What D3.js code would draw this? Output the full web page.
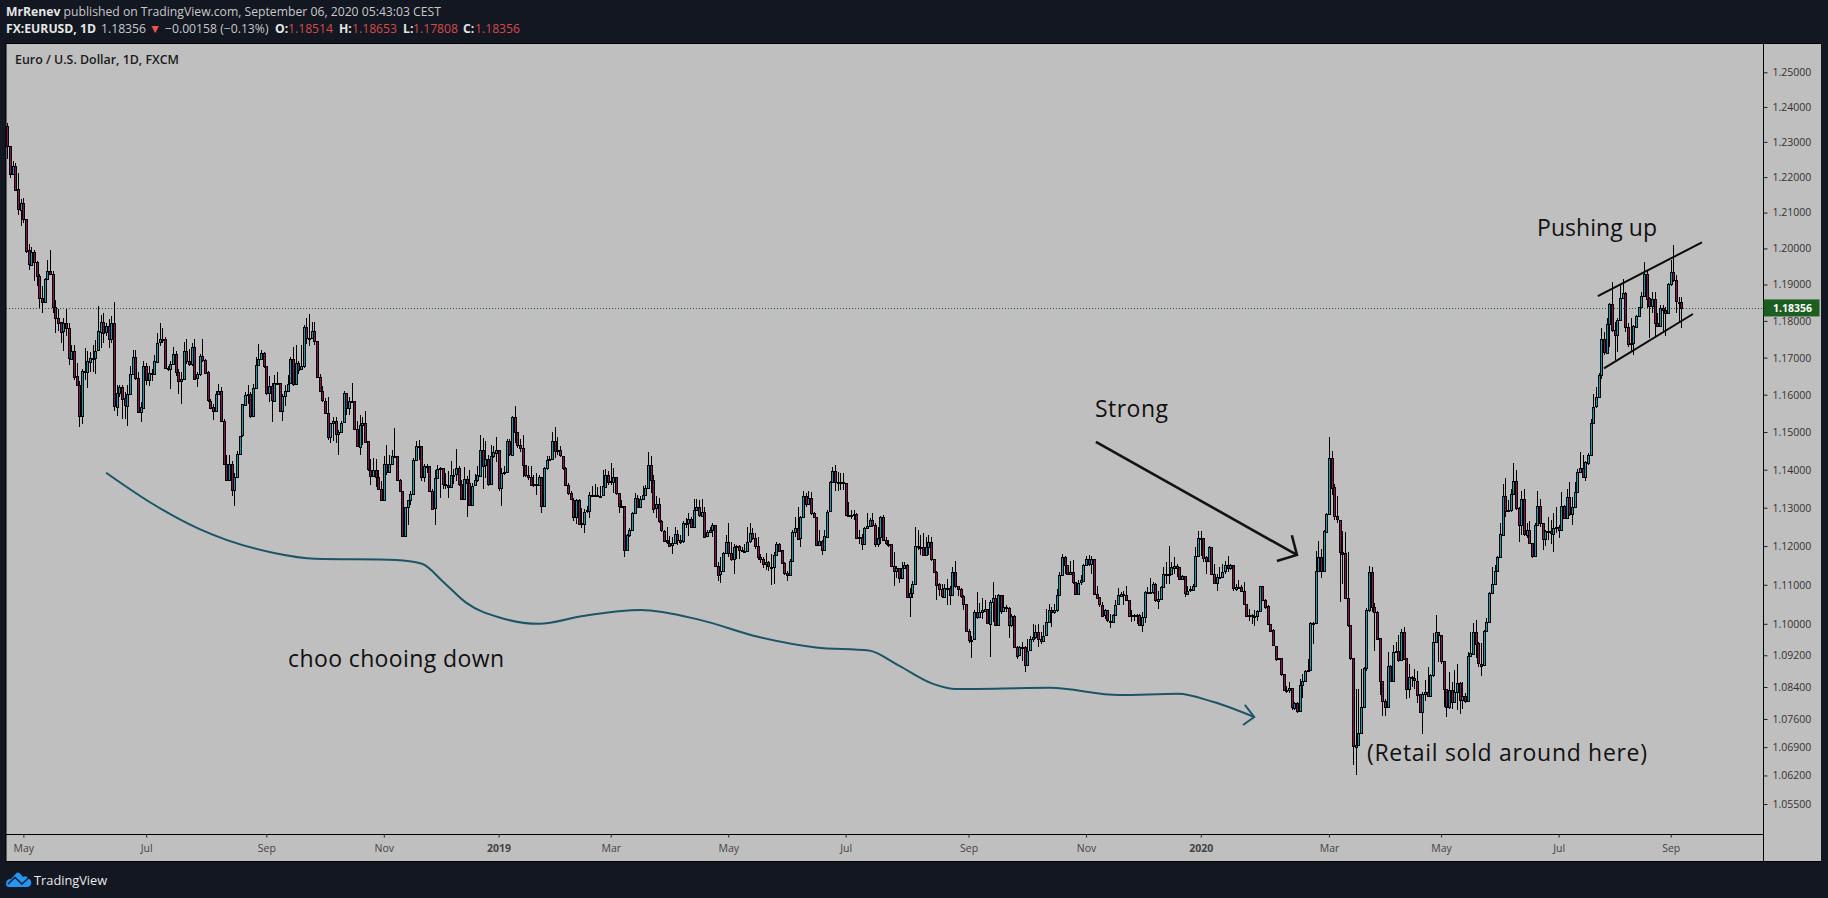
<!DOCTYPE html>
<html>
<head>
<meta charset="utf-8">
<script src="https://d3js.org/d3.v7.min.js"></script>
<style>
    html, body { margin: 0; padding: 0; background: #131722; overflow: hidden; }
    svg { display: block; }
    text { font-family: "Open Sans", "Noto Sans", sans-serif; }
</style>
</head>
<body>
<script>
// daily candles. values are pips above 1.0000 (2345 = 1.2345)
var firstOpen = 2345;
var closes = [
2288,2208,2232,2165,2108,2128,2083,1995,1955,1991,
1963,1924,1864,1852,1916,1937,1928,1838,1809,1796,
1770,1793,1780,1698,1719,1649,1625,1541,1663,1660,
1690,1700,1700,1719,1772,1798,1768,1785,1749,1793,
1567,1605,1621,1590,1572,1603,1657,1702,1645,1553,
1566,1678,1640,1658,1654,1690,1741,1750,1750,1672,
1670,1684,1710,1660,1636,1642,1718,1692,1683,1730,
1643,1655,1705,1694,1660,1584,1566,1556,1601,1610,
1530,1416,1375,1416,1348,1381,1441,1490,1574,1600,
1602,1543,1618,1680,1696,1712,1676,1604,1622,1584,
1632,1632,1556,1596,1610,1630,1695,1628,1686,1668,
1677,1783,1754,1754,1772,1744,1647,1609,1584,1552,
1487,1525,1530,1495,1500,1525,1604,1565,1583,1583,
1508,1462,1520,1525,1475,1400,1384,1400,1382,1350,
1320,1415,1395,1415,1436,1436,1373,1345,1226,1301,
1319,1335,1426,1463,1463,1380,1410,1410,1345,1298,
1378,1402,1404,1362,1360,1355,1387,1387,1404,1362,
1323,1376,1366,1308,1358,1372,1385,1453,1410,1427,
1361,1436,1446,1453,1352,1391,1393,1475,1440,1540,
1501,1466,1457,1413,1387,1382,1360,1363,1360,1381,
1305,1404,1426,1428,1477,1451,1451,1437,1404,1360,
1338,1321,1277,1321,1259,1259,1290,1293,1334,1334,
1334,1332,1332,1356,1387,1369,1367,1381,1338,1305,1305,
1191,1230,1242,1286,1325,1301,1323,1334,1352,1413,
1374,1299,1309,1264,1240,1215,1209,1202,1208,1231,
1215,1211,1259,1259,1270,1250,1294,1301,1279,1290,
1226,1237,1243,1255,1149,1127,1136,1182,1211,1183,
1167,1198,1199,1189,1187,1187,1211,1233,1220,1199,
1171,1167,1154,1158,1147,1147,1178,1206,1189,1155,
1129,1125,1162,1237,1248,1220,1275,1330,1310,1325,
1286,1275,1202,1213,1189,1226,1290,1367,1396,1367,
1367,1367,1365,1281,1281,1281,1284,1222,1224,1206,
1248,1252,1268,1255,1206,1222,1275,1215,1206,1206,
1148,1136,1143,1118,1143,1152,1070,1079,1101,1200,
1198,1198,1176,1198,1211,1167,1134,1101,1088,1070,
1092,1092,1074,1132,1096,1088,1070,1050,982,960,
960,1030,1017,1030,1035,1039,1002,1057,1067,
998,1074,1032,1043,1040,996,1020,942,920,940,
942,897,932,961,966,979,961,957,970,1004,
1034,1030,1034,1073,1124,1171,1150,1126,1132,1107,
1077,1105,1111,1151,1167,1154,1167,1077,1068,1049,
1020,1034,1008,1006,1023,1049,1073,1077,1074,1062,
1020,1023,1020,1023,997,1017,1081,1081,1081,1102,
1060,1064,1094,1128,1128,1128,1145,1149,1145,1114,
1122,1077,1085,1088,1097,1175,1222,1222,1171,1160,
1197,1128,1105,1120,1120,1134,1150,1141,1150,1090,
1094,1094,1085,1051,1020,1023,1021,1020,1032,1097,
1062,1045,1000,983,944,910,913,872,833,831,
837,789,801,782,846,855,880,883,1002,1002,
1135,1171,1135,1238,1284,1432,1354,1278,1269,1185,
1181,1066,997,912,691,696,726,791,888,1036,
1133,1044,1031,963,855,806,790,893,855,929,
931,908,980,912,835,865,862,856,822,776,
822,828,818,870,954,980,972,905,835,790,
833,803,827,850,808,818,805,918,925,980,
950,899,895,981,1005,1078,1101,1135,1171,1231,
1332,1293,1294,1335,1369,1299,1254,1322,1230,1242,
1208,1175,1256,1305,1260,1218,1239,1239,1233,1248,
1250,1242,1305,1273,1327,1282,1301,1341,1395,1405,
1381,1420,1440,1525,1568,1593,1652,1750,1714,1792,
1846,1775,1762,1803,1862,1876,1783,1737,1739,1785,
1814,1839,1869,1930,1862,1839,1859,1794,1785,1835,
1830,1821,1901,1935,1912,1853,1853,1836
];
var highs = [
2355,2280,2245,2240,2212,2138,2142,2083,2012,2003,
1995,1966,1928,1895,1918,1968,1996,1937,1857,1832,
1795,1809,1832,1795,1733,1733,1686,1636,1670,1726,
1719,1716,1733,1747,1840,1817,1823,1795,1804,1813,
1853,1627,1627,1625,1606,1627,1678,1722,1722,1660,
1580,1690,1686,1678,1669,1706,1767,1793,1781,1755,
1678,1692,1728,1719,1669,1660,1742,1750,1723,1741,
1750,1660,1710,1750,1696,1665,1588,1575,1611,1630,
1620,1536,1440,1440,1422,1392,1449,1453,1495,1607,
1625,1608,1628,1701,1738,1720,1715,1676,1649,1632,
1654,1662,1628,1602,1625,1654,1703,1730,1733,1690,
1733,1790,1807,1818,1796,1796,1746,1657,1623,1592,
1595,1525,1540,1540,1505,1530,1610,1605,1594,1632,
1583,1530,1545,1540,1557,1475,1428,1432,1428,1400,
1370,1435,1465,1440,1452,1510,1436,1375,1322,1303,
1321,1344,1430,1475,1480,1462,1416,1414,1405,1350,
1400,1413,1408,1392,1392,1396,1424,1402,1454,1410,
1372,1406,1384,1400,1366,1388,1410,1493,1483,1476,
1439,1466,1462,1488,1453,1405,1410,1482,1482,1542,
1569,1490,1481,1492,1413,1409,1411,1387,1392,1387,
1378,1407,1435,1435,1501,1513,1486,1462,1437,1407,
1365,1343,1325,1323,1323,1299,1296,1305,1340,1358,
1363,1354,1358,1400,1402,1396,1418,1404,1381,1338,1321,
1305,1231,1246,1290,1338,1334,1330,1356,1360,1446,
1435,1387,1330,1325,1268,1242,1250,1226,1224,1250,
1242,1228,1264,1272,1286,1275,1323,1323,1321,1323,
1303,1242,1250,1259,1226,1158,1171,1184,1228,1261,
1211,1206,1202,1202,1198,1206,1250,1261,1246,1233,
1224,1180,1171,1182,1162,1180,1184,1211,1208,1189,
1158,1136,1167,1242,1277,1303,1279,1345,1338,1343,
1340,1290,1277,1242,1215,1242,1293,1369,1407,1413,
1393,1391,1391,1360,1314,1294,1293,1286,1242,1231,
1250,1286,1272,1286,1259,1250,1279,1281,1224,1215,
1206,1184,1149,1143,1158,1158,1154,1092,1110,1249,
1242,1228,1233,1224,1228,1224,1167,1136,1105,1101,
1101,1114,1096,1145,1162,1096,1092,1074,1050,986,
969,1035,1081,1052,1066,1061,1039,1061,1106,
1073,1077,1074,1073,1049,1043,1026,1023,944,943,
953,944,961,970,1000,996,1000,979,996,1037,
1051,1043,1050,1090,1132,1180,1175,1151,1160,1164,
1107,1111,1124,1154,1175,1177,1175,1167,1097,1068,
1056,1038,1034,1026,1026,1060,1091,1081,1085,1098,
1060,1034,1026,1026,1026,1030,1085,1094,1117,1107,
1105,1085,1098,1145,1158,1199,1158,1171,1154,1143,
1124,1120,1098,1098,1103,1197,1239,1239,1222,1175,
1199,1197,1154,1128,1145,1154,1162,1173,1154,1141,
1103,1111,1100,1107,1051,1037,1026,1034,1034,1098,
1098,1064,1047,1000,987,944,914,914,872,842,
852,837,803,803,860,872,884,910,1004,1004,
1188,1214,1192,1243,1287,1488,1450,1362,1332,1269,
1239,1237,1184,997,912,835,835,886,891,1040,
1148,1146,1052,1033,963,856,810,929,895,946,
954,971,988,993,912,899,868,885,880,822,
827,857,891,874,976,1022,980,971,906,835,
878,852,882,899,852,852,825,929,980,1003,
1009,954,950,984,1014,1082,1145,1150,1175,1259,
1362,1377,1320,1350,1418,1398,1303,1345,1350,1260,
1265,1208,1260,1345,1324,1259,1242,1277,1269,1286,
1301,1256,1341,1307,1350,1367,1327,1367,1401,1446,
1439,1423,1444,1535,1603,1620,1659,1780,1771,1807,
1850,1907,1798,1807,1898,1914,1880,1794,1807,1789,
1816,1839,1880,1962,1941,1866,1880,1880,1821,1844,
1844,1839,1903,1968,2010,1926,1866,1865
];
var lows = [
2250,2198,2210,2165,2094,2062,2071,1986,1941,1955,
1909,1895,1836,1823,1852,1914,1928,1823,1767,1773,
1740,1719,1759,1679,1696,1640,1623,1513,1522,1640,
1618,1660,1660,1655,1719,1727,1740,1759,1727,1740,
1556,1542,1594,1536,1536,1516,1602,1660,1640,1550,
1528,1566,1627,1623,1638,1656,1692,1731,1740,1669,
1665,1614,1683,1651,1602,1575,1642,1683,1678,1678,
1642,1620,1651,1687,1656,1580,1562,1531,1558,1600,
1530,1412,1372,1372,1331,1305,1385,1440,1487,1574,
1574,1538,1543,1616,1676,1694,1671,1600,1580,1527,
1580,1628,1554,1530,1570,1608,1629,1624,1630,1656,
1668,1671,1736,1732,1754,1733,1645,1606,1580,1549,
1480,1470,1475,1470,1440,1497,1525,1546,1546,1578,
1506,1460,1440,1466,1470,1396,1360,1384,1355,1348,
1317,1320,1386,1390,1412,1432,1370,1340,1224,1224,
1256,1308,1335,1422,1425,1371,1368,1390,1340,1296,
1255,1378,1325,1350,1350,1325,1355,1362,1370,1358,
1320,1323,1277,1306,1308,1365,1368,1381,1348,1378,
1358,1361,1430,1420,1345,1305,1385,1392,1435,1438,
1470,1457,1448,1381,1382,1373,1357,1355,1334,1356,
1287,1301,1400,1426,1426,1431,1440,1433,1400,1358,
1334,1319,1264,1257,1255,1246,1233,1287,1272,1330,
1330,1330,1330,1331,1354,1360,1360,1338,1334,1286,1299,
1171,1189,1224,1242,1284,1299,1299,1321,1334,1352,
1338,1286,1272,1261,1237,1211,1206,1198,1180,1206,
1202,1206,1209,1246,1226,1246,1249,1294,1275,1275,
1224,1224,1235,1224,1145,1110,1105,1136,1182,1171,
1162,1127,1167,1167,1184,1184,1187,1208,1215,1193,
1164,1155,1143,1138,1136,1099,1101,1176,1184,1154,
1125,1110,1123,1161,1224,1215,1198,1272,1303,1308,
1281,1272,1199,1202,1176,1187,1224,1290,1365,1343,
1343,1347,1347,1279,1279,1270,1268,1220,1206,1191,
1205,1246,1250,1250,1198,1198,1206,1213,1202,1198,
1145,1096,1118,1105,1118,1140,1066,1017,1066,1101,
1189,1176,1173,1176,1176,1162,1132,1061,1070,1066,
1066,1048,1048,1074,1092,1070,1066,1035,978,951,
912,964,1013,1017,1013,1030,1000,916,1004,
996,996,1026,1030,1030,963,991,940,910,919,
906,878,895,932,953,961,940,949,955,968,
1004,991,1026,1030,1073,1124,1128,1124,1124,1103,
1073,1081,1100,1111,1151,1148,1128,1073,1064,1043,
1017,1013,1004,989,1008,1021,1047,1073,1047,1060,
1017,1004,1008,1000,996,980,1002,1077,1077,1077,
1057,1038,1064,1094,1103,1103,1124,1128,1120,1111,
1111,1068,1073,1081,1085,1094,1173,1173,1158,1128,
1158,1124,1103,1085,1115,1120,1128,1132,1137,1085,
1085,1090,1081,1049,1017,1008,1000,994,1008,1030,
1060,1038,997,979,943,906,910,867,829,825,
826,782,782,776,780,812,852,880,880,949,
1041,1135,1118,1135,1235,1282,1333,1269,1259,1056,
1103,1065,993,907,645,620,707,726,870,880,
1031,1031,930,958,820,768,768,790,852,855,
929,903,908,908,811,813,840,835,800,776,
722,805,816,818,865,952,903,899,790,765,
786,784,801,782,772,784,801,803,918,925,
912,891,868,935,978,1004,1078,1116,1133,1168,
1231,1277,1290,1290,1333,1294,1211,1228,1226,1220,
1205,1168,1174,1256,1250,1190,1201,1216,1205,1185,
1235,1220,1242,1271,1273,1279,1256,1299,1341,1392,
1378,1369,1412,1440,1522,1565,1593,1641,1707,1714,
1730,1771,1694,1716,1803,1862,1771,1730,1716,1707,
1780,1812,1835,1869,1835,1753,1821,1753,1783,1785,
1771,1759,1821,1896,1908,1821,1794,1781
];

// axis labels
var priceTicks = [1.25,1.24,1.23,1.22,1.21,1.20,1.19,1.18,1.17,1.16,1.15,1.14,1.13,1.12,1.11,1.10,1.092,1.084,1.076,1.069,1.062,1.055];
var timeTickBars = [6,52,97,141,184,226,270,314,360,404,447,495,537,581,623];
var timeTickLabels = ['May','Jul','Sep','Nov','2019','Mar','May','Jul','Sep','Nov','2020','Mar','May','Jul','Sep'];
var lastPrice = 1.18356;

// drawings on the chart, as [bar number, pips]
var chooCurve = [[37,1392],[54.2,1311],[71.4,1246],[99.9,1182],[115.2,1167],[145.6,1164],[155.3,1154],[163.2,1108],[171.8,1054],[184.9,1015],[199.1,1000],[215.6,1020],[237.3,1035],[259.4,1010],[281.1,967],[302.9,940],[322.7,932],[333.6,895],[346.7,848],[355.3,835],[390.5,838],[416.4,820],[438.4,823],[451.5,803],[467,765]];
var chooHead = [[463.5,795],[467,765],[462.8,745]];
var strongLine = [[407.7,1474],[483,1177]];
var strongHead = [[481.1,1228],[483,1177],[475.5,1161]];
var channelTop = [[595.7,1868],[634.7,2017]];
var channelBottom = [[598,1671],[631.3,1819]];

var width = 1828, height = 898;
var plotLeft = 6, plotTop = 43.5, axisX = 1763.5, axisY = 834.5, frameRight = 1821, frameBottom = 861.5;

var svg = d3.select('body').append('svg').attr('width', width).attr('height', height);

var x = d3.scaleLinear().domain([0, closes.length - 1]).range([7.33, 1681.4]);
var y = d3.scaleLog().domain([1.25, 1.055]).range([72.3, 804]);
function py(pips) { return y(1 + pips / 10000); }

svg.append('rect').attr('x', plotLeft).attr('y', plotTop)
    .attr('width', frameRight - plotLeft).attr('height', frameBottom - plotTop)
    .attr('fill', '#bfbfbf');

// last price line
svg.append('line').attr('x1', plotLeft).attr('x2', axisX)
    .attr('y1', Math.round(y(lastPrice)) + 0.5).attr('y2', Math.round(y(lastPrice)) + 0.5)
    .attr('stroke', '#1b5e20').attr('stroke-dasharray', '1 2');

// candles
var candles = svg.append('g').attr('clip-path', 'url(#plotClip)');
svg.append('clipPath').attr('id', 'plotClip').append('rect')
    .attr('x', plotLeft).attr('y', plotTop).attr('width', axisX - plotLeft).attr('height', axisY - plotTop);

candles.selectAll('line').data(closes).enter().append('line')
    .attr('x1', (d,i)=>Math.round(x(i)) + 0.5)
    .attr('x2', (d,i)=>Math.round(x(i)) + 0.5)
    .attr('y1', (d,i)=>py(Math.max(highs[i], d, i ? closes[i-1] : firstOpen)))
    .attr('y2', (d,i)=>py(Math.min(lows[i], d, i ? closes[i-1] : firstOpen)))
    .attr('stroke', '#000').attr('shape-rendering', 'crispEdges');

candles.selectAll('rect').data(closes).enter().append('rect')
    .attr('x', (d,i)=>Math.round(x(i)) - 0.5)
    .attr('y', (d,i)=>Math.round(py(Math.max(d, i ? closes[i-1] : firstOpen))) + 0.5)
    .attr('width', 2)
    .attr('height', (d,i)=>{
        var o = i ? closes[i-1] : firstOpen;
        return Math.max(1, Math.round(Math.abs(py(d) - py(o))));
    })
    .attr('fill', (d,i)=> d >= (i ? closes[i-1] : firstOpen) ? '#00a5b8' : '#8e0f55')
    .attr('stroke', '#000').attr('shape-rendering', 'crispEdges');

// hand drawn lines
var toPoint = d3.line().x(d=>x(d[0])).y(d=>py(d[1]));
var toCurve = d3.line().x(d=>x(d[0])).y(d=>py(d[1])).curve(d3.curveMonotoneX);
function draw(points, gen, color, w) {
    svg.append('path').attr('d', gen(points)).attr('fill', 'none')
        .attr('stroke', color).attr('stroke-width', w);
}
draw(chooCurve, toCurve, '#1c5566', 2);
draw(chooHead, toPoint, '#1c5566', 2);
draw(strongLine, toPoint, '#131313', 2.6);
draw(strongHead, toPoint, '#131313', 2.6);
draw(channelTop, toPoint, '#0a0a0a', 2);
draw(channelBottom, toPoint, '#0a0a0a', 2);

function note(str, px, baseline, len) {
    svg.append('text').attr('x', px).attr('y', baseline).text(str)
        .attr('font-size', 23).attr('font-weight', 500).attr('fill', '#111')
        .attr('textLength', len).attr('lengthAdjust', 'spacing');
}
note('Strong', 1095, 417, 73);
note('Pushing up', 1537, 236, 120);
note('choo chooing down', 288, 667, 216);
note('(Retail sold around here)', 1367, 761, 280);

// axes
var yAxis = svg.append('g').attr('transform', `translate(${axisX},0)`)
    .call(d3.axisRight(y).tickValues(priceTicks).tickSize(4).tickPadding(5).tickFormat(d3.format('.5f')));
yAxis.select('.domain').remove();
yAxis.selectAll('text').attr('font-size', 10.5).attr('fill', '#333').style('font-family', '"Open Sans"');
yAxis.selectAll('line').attr('stroke', '#222');

var xAxis = svg.append('g').attr('transform', `translate(0,${axisY})`)
    .call(d3.axisBottom(x).tickValues(timeTickBars).tickSize(3).tickPadding(7).tickFormat((d,i)=>timeTickLabels[i]));
xAxis.select('.domain').remove();
xAxis.selectAll('text').attr('font-size', 10.5).attr('fill', '#444').style('font-family', '"Open Sans"')
    .attr('font-weight', (d,i)=>/^20/.test(timeTickLabels[i]) ? 700 : 400);
xAxis.selectAll('line').attr('stroke', '#222');

// frame lines
[[plotLeft,plotTop,frameRight,plotTop],[plotLeft,axisY,axisX,axisY],[plotLeft,frameBottom,frameRight,frameBottom],[axisX,plotTop,axisX,frameBottom],[plotLeft,plotTop,plotLeft,frameBottom]]
    .forEach(s=>svg.append('line').attr('x1',s[0]).attr('y1',s[1]).attr('x2',s[2]).attr('y2',s[3]).attr('stroke','#000'));

// last price tag
svg.append('rect').attr('x', axisX).attr('y', y(lastPrice) - 8.5).attr('width', 56).attr('height', 17).attr('fill', '#1b5e20');
svg.append('text').attr('x', 1773).attr('y', y(lastPrice) + 4).text(lastPrice.toFixed(5))
    .attr('font-size', 10.5).attr('font-weight', 700).attr('fill', '#fff');

// header
svg.append('text').attr('x', 6).attr('y', 16).attr('font-size', 12.2).attr('fill', '#c8c8c8')
    .html('<tspan font-weight="700" fill="#e6e6e6">MrRenev</tspan> published on TradingView.com, September 06, 2020 05:43:03 CEST');
var quote = [
    ['FX:EURUSD, 1D', 6, '#e6e6e6', 700], ['1.18356', 101, '#c8c8c8', 400], ['\u25BC', 149, '#ef5350', 400],
    ['\u22120.00158 (\u22120.13%)', 165, '#c8c8c8', 400],
    ['O:', 275, '#e6e6e6', 700], ['1.18514', 288, '#d84a48', 400],
    ['H:', 339, '#e6e6e6', 700], ['1.18653', 352, '#d84a48', 400],
    ['L:', 403, '#e6e6e6', 700], ['1.17808', 413, '#d84a48', 400],
    ['C:', 463, '#e6e6e6', 700], ['1.18356', 475, '#d84a48', 400]
];
quote.forEach(q=>svg.append('text').attr('x', q[1]).attr('y', 33).text(q[0])
    .attr('font-size', 12.2).attr('fill', q[2]).attr('font-weight', q[3]));
svg.append('text').attr('x', 15).attr('y', 64).text('Euro / U.S. Dollar, 1D, FXCM')
    .attr('font-size', 12.4).attr('font-weight', 600).attr('fill', '#1a1a1a');

// footer logo
svg.append('path').attr('d', 'M6 884 Q6 879 11 879 L16 873.5 Q18 871.5 20 873.5 L23 877 Q26 875 28 878 Q32 880 31 884 Q30 887 27 887 L9 887 Q6 887 6 884Z').attr('fill', '#2196f3');
svg.append('path').attr('d', 'M8 884 L15 877.5 L22 884 L29 877.5').attr('fill', 'none').attr('stroke', '#131722').attr('stroke-width', 1.4);
svg.append('text').attr('x', 34).attr('y', 885).text('TradingView').attr('font-size', 12.8).attr('fill', '#e8e8e8');
</script>
</body>
</html>
